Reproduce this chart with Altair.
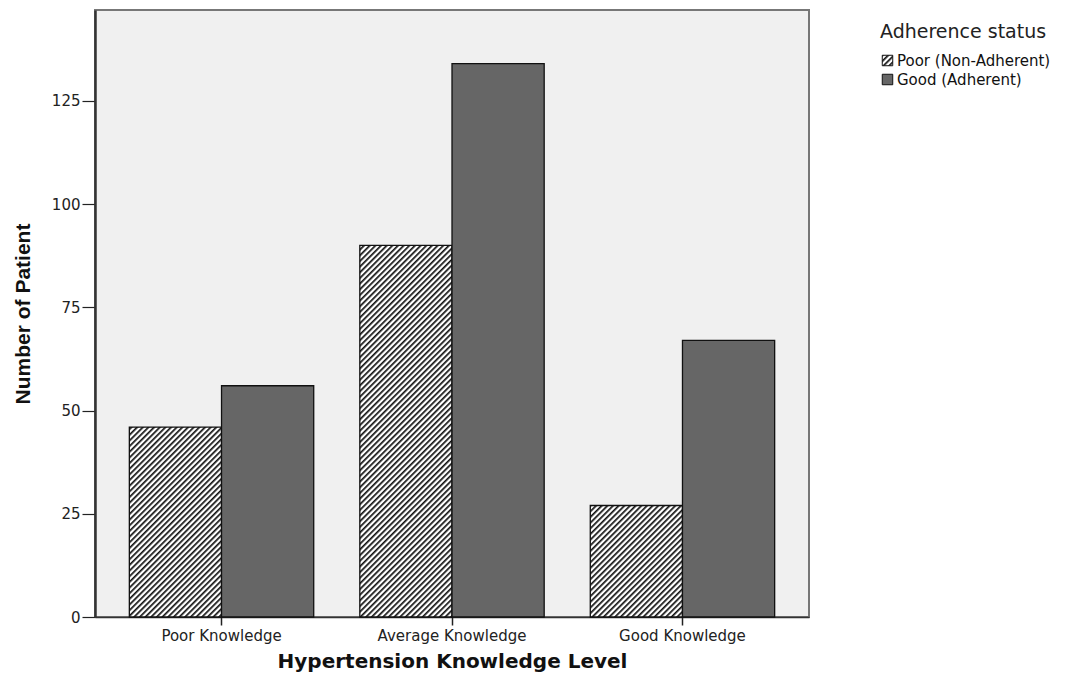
import altair as alt
import pandas as pd
import jinja2

# ---- data ----
levels = ["Poor Knowledge", "Average Knowledge", "Good Knowledge"]
statuses = ["Poor (Non-Adherent)", "Good (Adherent)"]
poor_adherence = [46, 90, 27]
good_adherence = [56, 134, 67]

rows = []
for i, lvl in enumerate(levels):
    rows.append({"level": lvl, "status": statuses[0], "count": poor_adherence[i]})
    rows.append({"level": lvl, "status": statuses[1], "count": good_adherence[i]})
df = pd.DataFrame(rows)

y_ticks = [0, 25, 50, 75, 100, 125]

LABEL_FONT = "DejaVu Sans"
TITLE_BOLD = "Liberation Sans Narrow, Liberation Sans, Arial, sans-serif"

bars = alt.Chart(df).mark_bar(stroke="#111111", strokeWidth=1.3).encode(
    x=alt.X(
        "level:N",
        sort=levels,
        scale=alt.Scale(paddingInner=0.2, paddingOuter=0.149),
        axis=alt.Axis(
            title="Hypertension Knowledge Level",
            labelAngle=0,
            labelFont=LABEL_FONT,
            labelFontSize=15,
            labelColor="#222222",
            labelPadding=3,
            tickSize=8,
            tickColor="#222222",
            tickWidth=1.5,
            domainColor="#333333",
            domainWidth=1.5,
            titleFont=LABEL_FONT,
            titleFontSize=20,
            titleFontWeight="bold",
            titleColor="#111111",
            titlePadding=8,
        ),
    ),
    xOffset=alt.XOffset("status:N", sort=statuses,
                        scale=alt.Scale(paddingInner=0, paddingOuter=0)),
    y=alt.Y(
        "count:Q",
        scale=alt.Scale(domain=[0, 147], nice=False),
        axis=alt.Axis(
            title="Number of Patient",
            values=y_ticks,
            grid=False,
            labelFont=LABEL_FONT,
            labelFontSize=15,
            labelColor="#222222",
            labelPadding=2,
            tickSize=13,
            tickColor="#222222",
            tickWidth=1.2,
            domainColor="#333333",
            domainWidth=2.5,
            titleFont=TITLE_BOLD,
            titleFontSize=21,
            titleFontWeight="bold",
            titleColor="#111111",
            titlePadding=18,
        ),
    ),
    fill=alt.Fill(
        "status:N",
        sort=statuses,
        scale=alt.Scale(domain=statuses, range=["url(#hatch)", "#666666"]),
        legend=alt.Legend(
            title="Adherence status",
            orient="none",
            legendX=785,
            legendY=13,
            titleFont=LABEL_FONT,
            titleFontSize=19,
            titleFontWeight="normal",
            titleColor="#222222",
            titlePadding=11,
            titleLimit=400,
            labelFont=LABEL_FONT,
            labelFontSize=15,
            labelColor="#111111",
            labelOffset=2,
            labelLimit=400,
            symbolType="square",
            symbolSize=110,
            symbolStrokeColor="#111111",
            symbolStrokeWidth=1,
            symbolOpacity=1,
            rowPadding=3,
        ),
    ),
)

chart = bars.properties(
    width=714,
    height=607,
    background="white",
    autosize=alt.AutoSizeParams(type="none"),
    padding={"left": 87, "top": 2, "right": 256, "bottom": 58},
).configure_view(
    fill="#f0f0f0",
    stroke="#777777",
    strokeWidth=2,
)

TEMPLATE = jinja2.Template("""<!DOCTYPE html>
<html>
<head>
  <meta charset="UTF-8">
  <style>
    #{{ output_div }}.vega-embed { width: 100%; display: flex; }
    #{{ output_div }}.vega-embed details,
    #{{ output_div }}.vega-embed details summary { position: relative; }
  </style>
  <script type="text/javascript" src="{{ base_url }}/vega@{{ vega_version }}"></script>
  <script type="text/javascript" src="{{ base_url }}/vega-lite@{{ vegalite_version }}"></script>
  <script type="text/javascript" src="{{ base_url }}/vega-embed@{{ vegaembed_version }}"></script>
</head>
<body>
  <svg width="0" height="0" style="position:absolute">
    <defs>
      <pattern id="hatch" patternUnits="userSpaceOnUse" width="4" height="4" patternTransform="rotate(45)">
        <rect width="4" height="4" fill="#ffffff"/>
        <line x1="0" y1="0" x2="0" y2="4" stroke="#111111" stroke-width="3.4"/>
      </pattern>
    </defs>
  </svg>
  <div id="{{ output_div }}"></div>
  <script type="text/javascript">
    var spec = {{ spec }};
    var embedOpt = {{ embed_options }};
    vegaEmbed("#{{ output_div }}", spec, embedOpt).catch(console.error);
  </script>
</body>
</html>
""")

chart.save("out.html", embed_options={"renderer": "svg", "actions": False}, template=TEMPLATE)
